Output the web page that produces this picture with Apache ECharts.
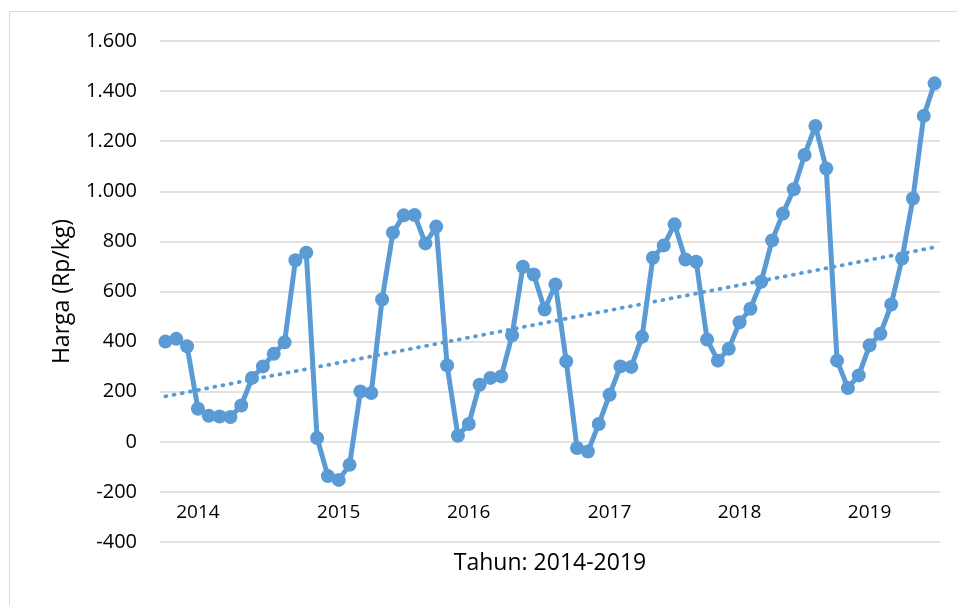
<!DOCTYPE html>
<html>
<head>
<meta charset="utf-8">
<script src="https://cdn.jsdelivr.net/npm/echarts@6/dist/echarts.min.js"></script>
<style>
html,body{margin:0;padding:0;background:#fff;}
#chart{width:957px;height:605px;}
</style>
</head>
<body>
<div id="chart"></div>
<script>
// ---- data ----
const yearLabels = ['2014', '2015', '2016', '2017', '2018', '2019'];
const yearLabelMonth = [3, 16, 28, 41, 53, 65];
const prices = [
  400, 411, 381, 132, 104, 101, 99, 145, 255, 301, 351, 397,
  725, 755, 15, -137, -152, -92, 201, 195, 568, 835, 904, 905,
  792, 859, 305, 24, 71, 228, 255, 261, 425, 699, 668, 528,
  628, 321, -25, -39, 71, 188, 301, 299, 419, 735, 784, 868,
  728, 719, 408, 324, 371, 477, 531, 639, 804, 911, 1008, 1145,
  1261, 1091, 324, 215, 265, 385, 431, 548, 732, 971, 1301, 1431
];
const yTicks = [-400, -200, 0, 200, 400, 600, 800, 1000, 1200, 1400, 1600];
const yTitle = 'Harga (Rp/kg)';
const xTitle = 'Tahun: 2014-2019';

// categories: one per month, year name where the label sits
const categories = prices.map((_, i) => {
  const k = yearLabelMonth.indexOf(i);
  return k >= 0 ? yearLabels[k] : '';
});

// linear trend (least squares) from the prices
const n = prices.length;
let sx = 0, sy = 0, sxy = 0, sxx = 0;
prices.forEach((v, i) => { sx += i; sy += v; sxy += i * v; sxx += i * i; });
const slope = (n * sxy - sx * sy) / (n * sxx - sx * sx);
const intercept = (sy - slope * sx) / n;
const trend = prices.map((_, i) => +(intercept + slope * i).toFixed(2));

const fmt = v => String(v).replace(/\B(?=(\d{3})+(?!\d))/g, '.');
const FONT = '"Open Sans", "Liberation Sans", sans-serif';
const BLUE = '#5B9BD5';

const chart = echarts.init(document.getElementById('chart'), null, {renderer: 'canvas'});
chart.setOption({
  animation: false,
  backgroundColor: '#ffffff',
  graphic: [{
    type: 'rect', z: -10, silent: true,
    shape: {x: 9.5, y: 11.5, width: 1000, height: 1000},
    style: {fill: 'none', stroke: '#D9D9D9', lineWidth: 1}
  }],
  grid: {left: 160, right: 17, top: 41, bottom: 63, containLabel: false},
  xAxis: {
    type: 'category',
    data: categories,
    boundaryGap: true,
    position: 'bottom',
    axisLine: {show: false},
    axisTick: {show: false},
    splitLine: {show: false},
    axisLabel: {
      inside: true,
      margin: 20,
      interval: 0,
      color: '#000',
      fontFamily: FONT,
      fontSize: 19
    },
    name: xTitle,
    nameLocation: 'middle',
    nameGap: 10,
    nameTextStyle: {color: '#000', fontFamily: FONT, fontSize: 23, verticalAlign: 'top'}
  },
  yAxis: {
    type: 'value',
    min: yTicks[0],
    max: yTicks[yTicks.length - 1],
    interval: 200,
    axisLine: {show: false},
    axisTick: {show: false},
    splitLine: {show: true, lineStyle: {color: '#D9D9D9', width: 1.5}},
    axisLabel: {
      margin: 23,
      color: '#000',
      fontFamily: FONT,
      fontSize: 20,
      formatter: fmt
    },
    name: yTitle,
    nameLocation: 'middle',
    nameGap: 86,
    nameTextStyle: {color: '#000', fontFamily: FONT, fontSize: 23}
  },
  series: [
    {
      name: 'Trend',
      type: 'line',
      data: trend,
      showSymbol: false,
      symbol: 'none',
      silent: true,
      z: 1,
      lineStyle: {color: BLUE, width: 3.8, type: [1, 7.3], cap: 'round'}
    },
    {
      name: 'Harga',
      type: 'line',
      data: prices,
      symbol: 'circle',
      symbolSize: 14,
      showSymbol: true,
      showAllSymbol: true,
      z: 2,
      itemStyle: {color: BLUE},
      lineStyle: {color: BLUE, width: 5}
    }
  ]
});
</script>
</body>
</html>
